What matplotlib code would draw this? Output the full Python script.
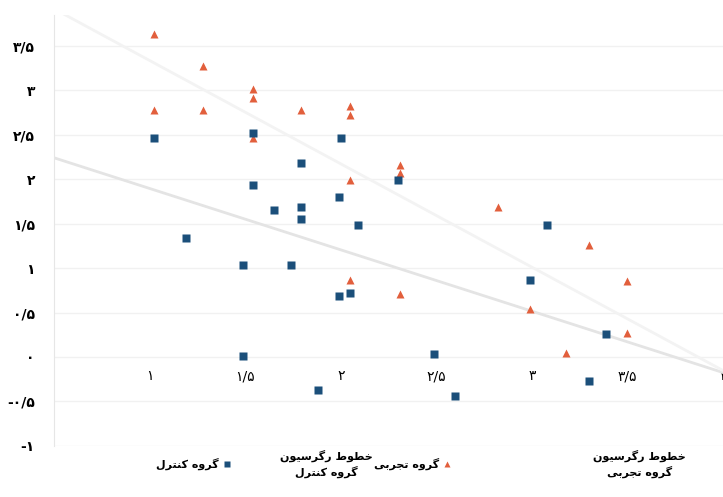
import numpy as np
import matplotlib
matplotlib.use('Agg')
import matplotlib.pyplot as plt
from matplotlib.lines import Line2D

# control group (squares)
ctrl_x = [1.02, 1.54, 1.79, 2.00, 1.54, 1.65, 1.79, 1.79, 1.99, 2.09, 2.30, 1.19,
          1.49, 1.74, 1.99, 2.05, 3.08, 2.99, 3.39, 3.30, 1.49, 1.88, 2.49, 2.60]
ctrl_y = [2.46, 2.52, 2.18, 2.47, 1.94, 1.65, 1.69, 1.55, 1.80, 1.48, 1.99, 1.34,
          1.03, 1.03, 0.69, 0.72, 1.49, 0.87, 0.26, -0.27, 0.01, -0.37, 0.03, -0.44]
# experimental group (triangles)
exp_x = [1.02, 1.28, 1.54, 1.54, 1.02, 1.28, 1.79, 2.05, 2.05, 1.54, 2.05,
         2.31, 2.31, 2.82, 3.30, 3.50, 2.99, 3.50, 3.18, 2.05, 2.31]
exp_y = [3.64, 3.27, 3.02, 2.91, 2.78, 2.78, 2.78, 2.83, 2.72, 2.47, 1.99,
         2.16, 2.07, 1.69, 1.26, 0.85, 0.54, 0.27, 0.04, 0.87, 0.71]

x_ticks = [1, 1.5, 2, 2.5, 3, 3.5, 4]
x_labels = ['۱', '۱/۵', '۲', '۲/۵', '۳', '۳/۵', '۴']
y_ticks = [-1, -0.5, 0, 0.5, 1, 1.5, 2, 2.5, 3, 3.5]
y_labels = ['-۱', '-۰/۵', '۰', '۰/۵', '۱', '۱/۵', '۲', '۲/۵', '۳', '۳/۵']

lbl_ctrl = 'گروه کنترل'
lbl_exp = 'گروه تجربی'
lbl_reg = 'خطوط رگرسیون'

# presentation forms: isolated, final, initial, medial
FORMS = {
    'گ': ('\uFB92', '\uFB93', '\uFB94', '\uFB95'),
    'ک': ('\uFB8E', '\uFB8F', '\uFB90', '\uFB91'),
    'ه': ('\uFEE9', '\uFEEA', '\uFEEB', '\uFEEC'),
    'ن': ('\uFEE5', '\uFEE6', '\uFEE7', '\uFEE8'),
    'ت': ('\uFE95', '\uFE96', '\uFE97', '\uFE98'),
    'ل': ('\uFEDD', '\uFEDE', '\uFEDF', '\uFEE0'),
    'خ': ('\uFEA5', '\uFEA6', '\uFEA7', '\uFEA8'),
    'ط': ('\uFEC1', '\uFEC2', '\uFEC3', '\uFEC4'),
    'س': ('\uFEB1', '\uFEB2', '\uFEB3', '\uFEB4'),
    'ی': ('\uFBFC', '\uFBFD', '\uFBFE', '\uFBFF'),
    'ج': ('\uFE9D', '\uFE9E', '\uFE9F', '\uFEA0'),
    'ب': ('\uFE8F', '\uFE90', '\uFE91', '\uFE92'),
    'ر': ('\uFEAD', '\uFEAE', None, None),
    'و': ('\uFEED', '\uFEEE', None, None),
}


def dual(c):
    return c in FORMS and FORMS[c][2] is not None


def shape(s):
    # join letters by hand and flip to visual order (matplotlib has no bidi)
    out = []
    for i, c in enumerate(s):
        if c not in FORMS:
            out.append(c)
            continue
        prev = s[i-1] if i > 0 else ' '
        nxt = s[i+1] if i < len(s)-1 else ' '
        jp = dual(prev)
        jn = dual(c) and nxt in FORMS
        if jp and jn:
            out.append(FORMS[c][3])
        elif jp:
            out.append(FORMS[c][1])
        elif jn:
            out.append(FORMS[c][2])
        else:
            out.append(FORMS[c][0])
    return ''.join(out)[::-1]


plt.rcParams['font.family'] = ['DejaVu Sans']

fig = plt.figure(figsize=(7.23, 4.97), dpi=100)
ax = fig.add_axes([0.075, 0.103, 0.925, 0.867])

blue = '#1b4f7a'
orange = '#e25f3c'

# regression lines
xx = np.array([0.5, 4.0])
reg_colors = ['#e4e4e4', '#f3f3f3']
for (xs, ys), col in zip([(ctrl_x, ctrl_y), (exp_x, exp_y)], reg_colors):
    k, b = np.polyfit(xs, ys, 1)
    ax.plot(xx, k*xx + b, color=col, lw=2, zorder=1)

ax.plot(exp_x, exp_y, '^', color=orange, ms=6, mec='none', zorder=3)
ax.plot(ctrl_x, ctrl_y, 's', color=blue, ms=5.5, mec='none', zorder=3)

ax.set_xlim(0.5, 4.0)
ax.set_ylim(-1, 3.85)
ax.set_xticks(x_ticks)
ax.set_xticklabels(x_labels, fontsize=10, fontweight='bold')
ax.set_yticks(y_ticks)
ax.set_yticklabels(y_labels, fontsize=10, fontweight='bold')
ax.tick_params(length=0)
ax.tick_params(axis='x', pad=9)
ax.tick_params(axis='y', pad=14)
ax.spines['bottom'].set_position(('data', 0))
ax.spines['bottom'].set_visible(False)
ax.spines['top'].set_visible(False)
ax.spines['right'].set_visible(False)
ax.spines['left'].set_color('#e6e6e6')
ax.yaxis.grid(True, color='#f1f1f1', lw=1)
ax.set_axisbelow(True)

# legend row
fs = 8
fig.text(0.302, 0.067, shape(lbl_ctrl), ha='right', va='center', fontsize=fs, fontweight='bold')
fig.add_artist(Line2D([0.314], [0.067], marker='s', color=blue, ms=5, mec='none',
                      transform=fig.transFigure))
fig.text(0.452, 0.067, shape(lbl_reg) + '\n' + shape(lbl_ctrl), ha='center', va='center',
         fontsize=fs, fontweight='bold', linespacing=1.35)
fig.text(0.608, 0.067, shape(lbl_exp), ha='right', va='center', fontsize=fs, fontweight='bold')
fig.add_artist(Line2D([0.618], [0.067], marker='^', color=orange, ms=5, mec='none',
                      transform=fig.transFigure))
fig.text(0.885, 0.067, shape(lbl_reg) + '\n' + shape(lbl_exp), ha='center', va='center',
         fontsize=fs, fontweight='bold', linespacing=1.35)

fig.savefig('out.png', dpi=100)
